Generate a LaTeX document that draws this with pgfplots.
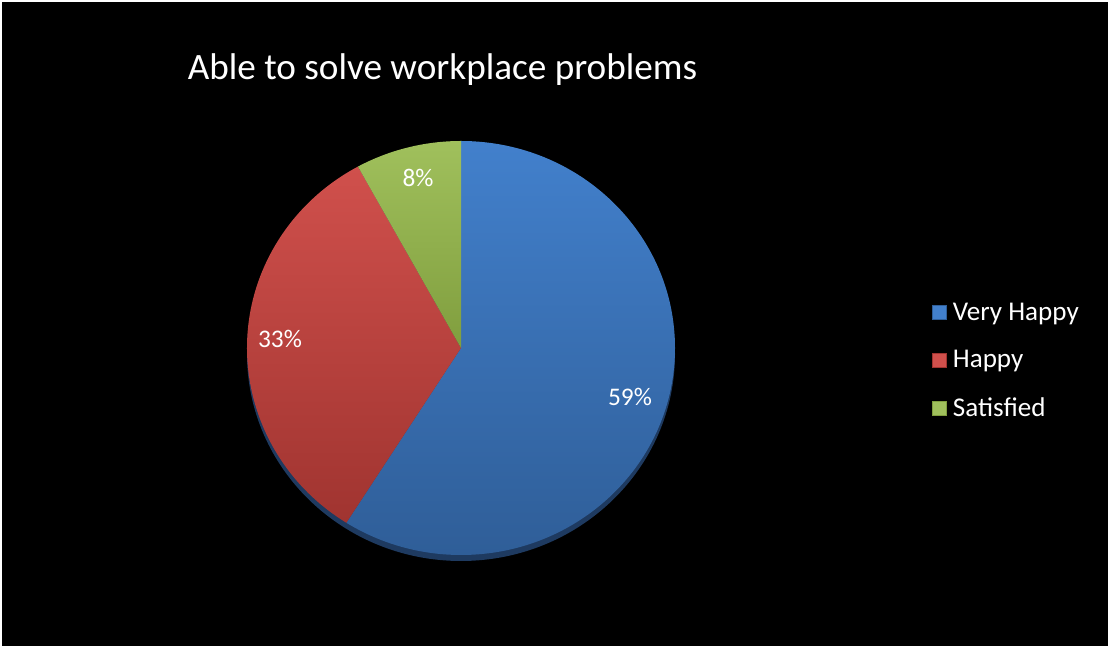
\documentclass[border=0pt]{standalone}
\usepackage{fontspec}
\setmainfont{Carlito}
\usepackage{pgfplots}
\pgfplotsset{compat=1.18}
\definecolor{blueT}{RGB}{66,128,204}
\definecolor{blueB}{RGB}{47,94,152}
\definecolor{redT}{RGB}{208,80,76}
\definecolor{redB}{RGB}{160,52,48}
\definecolor{greenT}{RGB}{160,192,92}
\definecolor{greenB}{RGB}{128,158,62}
\definecolor{shadowc}{RGB}{30,58,96}
\begin{document}
\begin{tikzpicture}
% data (percent)
\def\vA{59}\def\vB{33}\def\vC{8}
\pgfmathsetmacro\aA{90}
\pgfmathsetmacro\aB{90-\vA*3.6}
\pgfmathsetmacro\aC{\aB-\vB*3.6}
\pgfmathsetmacro\aD{\aC-\vC*3.6}
\def\rx{160.5pt}\def\ry{155.25pt}
\begin{axis}[x=0.75pt,y=0.75pt,xmin=0,xmax=1110,ymin=0,ymax=648,
  hide axis, clip=false, scale only axis,
  legend style={at={(axis cs:928,287.5)},anchor=west,draw=none,fill=none,
    text=white,font=\fontsize{20.3}{22}\selectfont,row sep=17pt,
    legend cell align=left,
    /tikz/every odd column/.append style={column sep=3pt}},
  ]
\fill[white] (axis cs:0,0) rectangle (axis cs:1110,648);
\fill[black] (axis cs:2,2) rectangle (axis cs:1108,646);
\addlegendimage{only marks,mark=square*,mark size=5.25pt,draw=blueB,fill=blueT}
\addlegendentry{Very Happy}
\addlegendimage{only marks,mark=square*,mark size=5.25pt,draw=redB,fill=redT}
\addlegendentry{Happy}
\addlegendimage{only marks,mark=square*,mark size=5.25pt,draw=greenB,fill=greenT}
\addlegendentry{Satisfied}
% shadow
\fill[shadowc] (axis cs:461,294) ellipse [x radius=\rx, y radius=\ry];
% wedges
\shade[top color=blueT,bottom color=blueB] (axis cs:461,300) -- ++({\rx*cos(\aA)},{\ry*sin(\aA)})
  arc[start angle=\aA,end angle=\aB,x radius=\rx,y radius=\ry] -- cycle;
\shade[top color=redT,bottom color=redB] (axis cs:461,300) -- ++({\rx*cos(\aB)},{\ry*sin(\aB)})
  arc[start angle=\aB,end angle=\aC,x radius=\rx,y radius=\ry] -- cycle;
\shade[top color=greenT,bottom color=greenB] (axis cs:461,300) -- ++({\rx*cos(\aC)},{\ry*sin(\aC)})
  arc[start angle=\aC,end angle=\aD,x radius=\rx,y radius=\ry] -- cycle;
% labels
\node[text=white,font=\fontsize{19}{22}\selectfont] at (axis cs:630,251) {\vA\%};
\node[text=white,font=\fontsize{19}{22}\selectfont] at (axis cs:280,309) {\vB\%};
\node[text=white,font=\fontsize{19}{22}\selectfont] at (axis cs:418,470) {\vC\%};
\node[text=white,font=\fontsize{27.9}{32}\selectfont] at (axis cs:442.5,578) {Able to solve workplace problems};
\end{axis}
\end{tikzpicture}
\end{document}
